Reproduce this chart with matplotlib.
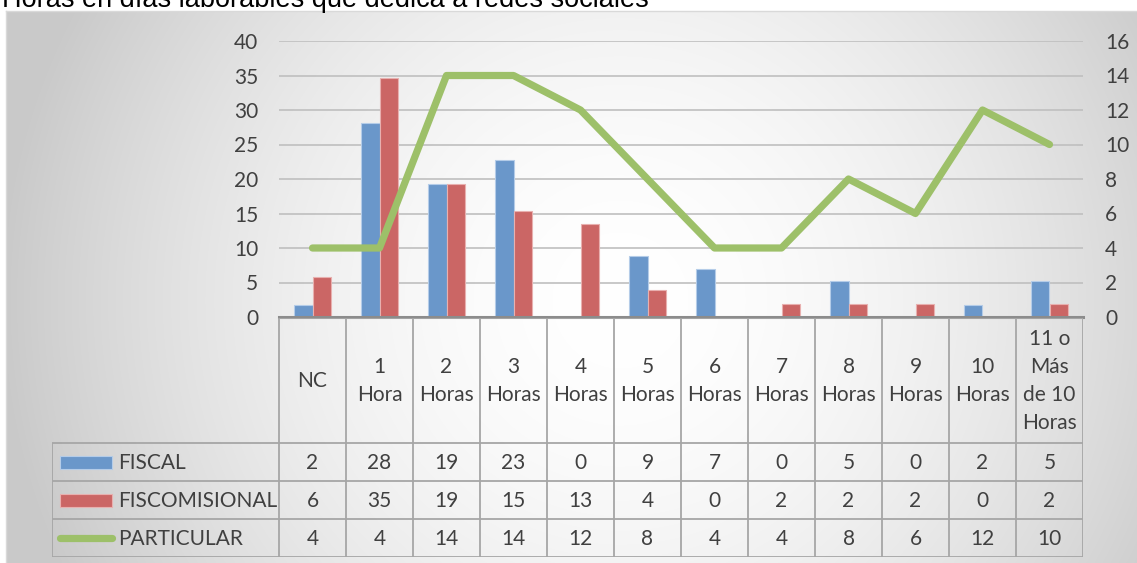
import numpy as np
import matplotlib
matplotlib.use("Agg")
import matplotlib.pyplot as plt
from matplotlib.patches import Rectangle

# data (bar heights are percentages, table shows them rounded)
categories = ["NC", "1\nHora", "2\nHoras", "3\nHoras", "4\nHoras", "5\nHoras",
              "6\nHoras", "7\nHoras", "8\nHoras", "9\nHoras", "10\nHoras",
              "11 o\nMás\nde 10\nHoras"]
fiscal = [1.75, 28.07, 19.30, 22.81, 0, 8.77, 7.02, 0, 5.26, 0, 1.75, 5.26]
fiscomisional = [5.77, 34.62, 19.23, 15.38, 13.46, 3.85, 0, 1.92, 1.92, 1.92, 0, 1.92]
particular = [4, 4, 14, 14, 12, 8, 4, 4, 8, 6, 12, 10]
series_names = ["FISCAL", "FISCOMISIONAL", "PARTICULAR"]
title = "Horas en días laborables que dedica a redes sociales"

BLUE = "#6A97CA"
RED = "#CB6665"
GREEN = "#9DC069"
TXT = "#404040"
GRID = "#BFBFBF"
TLINE = "#A6A6A6"
FONT = "Lato"

W, H = 1137, 563
fig = plt.figure(figsize=(W / 100, H / 100), dpi=100)


def fx(px):
    return px / W


def fy(py):
    return 1 - py / H


# radial gradient background of the chart area
bg = fig.add_axes([0, 0, 1, 1])
yy, xx = np.mgrid[0:H, 0:W]
d = np.sqrt((xx - 620) ** 2 + (yy - 300) ** 2) / 620
g = 1 - 0.21 * np.clip(d, 0, 1) ** 1.8
g[yy < 11] = 1
g[xx < 6] = 1
bg.imshow(np.dstack([g, g, g]), extent=(0, W, H, 0), aspect="auto", interpolation="bilinear")
bg.plot([6, W], [11, 11], color="#D9D9D9", lw=1)
bg.plot([6, 6], [11, H], color="#D9D9D9", lw=1)
bg.set_xlim(0, W)
bg.set_ylim(H, 0)
bg.axis("off")

fig.text(fx(2), fy(7), title, fontsize=19.5, family="Liberation Sans", color="#000000",
         va="baseline", ha="left")

# main chart
n = len(categories)
x = np.arange(n)
left, right, top, bottom = 279, 1083, 41, 317
ax = fig.add_axes([fx(left), fy(bottom), fx(right - left), (bottom - top) / H])
ax.patch.set_alpha(0)
bw = 0.28
ax.bar(x - bw / 2, fiscal, bw, color=BLUE, edgecolor="#B4CCE8", linewidth=0.8, zorder=3)
ax.bar(x + bw / 2, fiscomisional, bw, color=RED, edgecolor="#E8B0AF", linewidth=0.8, zorder=3)
ax.set_xlim(-0.5, n - 0.5)
ax.set_ylim(0, 40)
ax.set_yticks(np.arange(0, 41, 5))
ax.set_xticks([])
ax.grid(axis="y", color=GRID, lw=1.2, zorder=0)
for s in ax.spines.values():
    s.set_visible(False)
ax.axhline(0, color="#8C8C8C", lw=2.2, zorder=4, clip_on=False)
ax.tick_params(axis="y", length=0, pad=15, labelsize=15, labelcolor=TXT)
for lab in ax.get_yticklabels():
    lab.set_family(FONT)

ax2 = ax.twinx()
ax2.plot(x, particular, color=GREEN, lw=5.2, solid_capstyle="round",
         solid_joinstyle="round", zorder=5)
ax2.set_ylim(0, 16)
ax2.set_yticks(np.arange(0, 17, 2))
for s in ax2.spines.values():
    s.set_visible(False)
ax2.tick_params(axis="y", length=0, pad=16, labelsize=15, labelcolor=TXT)
for lab in ax2.get_yticklabels():
    lab.set_family(FONT)

# data table below the chart
tleft, tright, ttop, thead, tbot = 52, 1083, 318, 443, 557
colw = (right - left) / n
tab = fig.add_axes([fx(tleft), fy(tbot), fx(tright - tleft), (tbot - ttop) / H])
xl = -0.5 - (left - tleft) / colw
tab.set_xlim(xl, n - 0.5)
tab.set_ylim(tbot, ttop)
tab.axis("off")
rows_y = [thead, 481, 519, tbot]
lk = dict(color=TLINE, lw=1.3, solid_capstyle="butt")
tab.plot([-0.5, n - 0.5], [ttop, ttop], **lk)
for yv in rows_y:
    tab.plot([xl, n - 0.5], [yv, yv], **lk)
for i in range(n + 1):
    tab.plot([i - 0.5, i - 0.5], [ttop, tbot], **lk)
tab.plot([xl, xl], [thead, tbot], **lk)

for i, c in enumerate(categories):
    tab.text(i, (ttop + thead) / 2, c, ha="center", va="center", fontsize=15,
             family=FONT, color=TXT, linespacing=1.5)

table_vals = [fiscal, fiscomisional, particular]
for r, vals in enumerate(table_vals):
    yc = (rows_y[r] + rows_y[r + 1]) / 2
    for i, v in enumerate(vals):
        tab.text(i, yc + 1, f"{v:.0f}", ha="center", va="center", fontsize=15,
                 family=FONT, color=TXT)
    # legend key + name
    kx0 = xl + (60 - tleft) / colw
    kx1 = xl + (112 - tleft) / colw
    if r == 0 or r == 1:
        col = BLUE if r == 0 else RED
        ec = "#B4CCE8" if r == 0 else "#E8B0AF"
        tab.add_patch(Rectangle((kx0, yc - 6.5), kx1 - kx0, 13, facecolor=col,
                                edgecolor=ec, lw=0.8))
    else:
        tab.plot([kx0, kx1], [yc, yc], color=GREEN, lw=5.2, solid_capstyle="round")
    tab.text(xl + (118 - tleft) / colw, yc + 1, series_names[r], ha="left", va="center",
             fontsize=15, family=FONT, color=TXT)

fig.savefig("out.png", dpi=100)
